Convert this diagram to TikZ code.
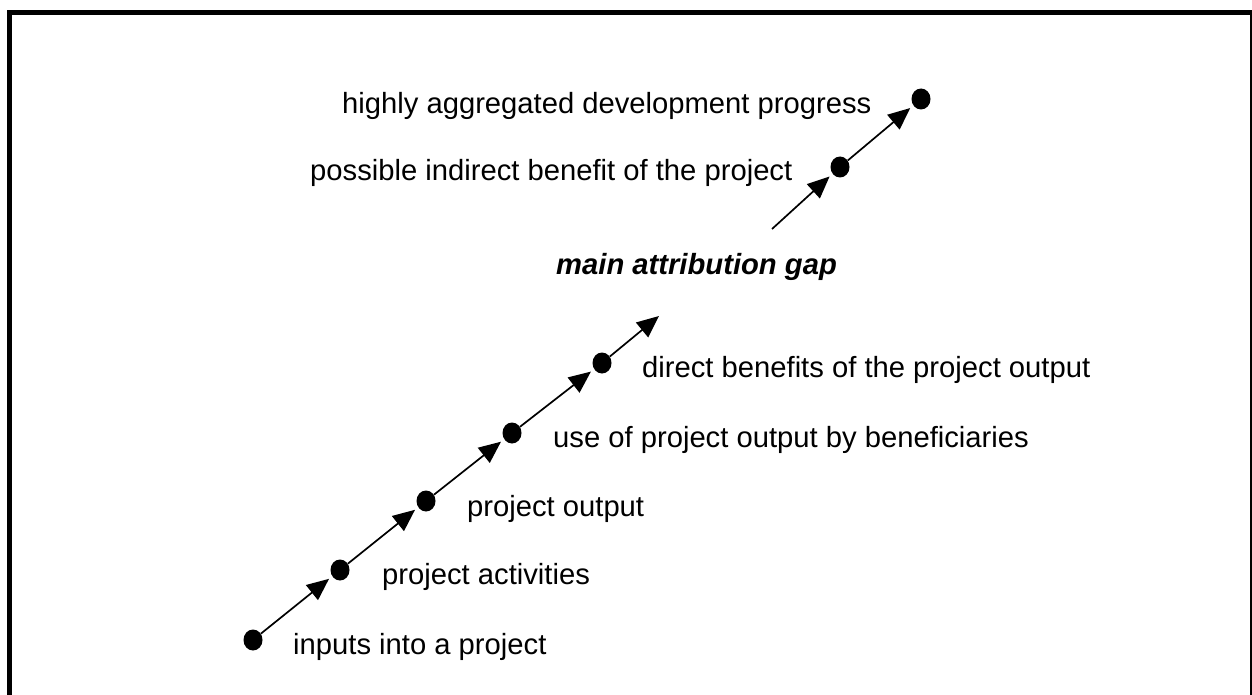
\documentclass[tikz,border=0pt]{standalone}
\usepackage{fontspec}
\setmainfont{Liberation Sans}
\usetikzlibrary{arrows.meta,shapes.geometric}
\begin{document}
\begin{tikzpicture}[x=1pt,y=-1pt,
  dotnode/.style={ellipse,fill=black,draw=none,minimum width=19pt,minimum height=21pt,inner sep=0pt},
  lbl/.style={anchor=base west,inner sep=0pt,font=\fontsize{29.2}{34}\selectfont},
  boldlbl/.style={lbl,font=\fontsize{29.2}{34}\selectfont\bfseries\itshape},
  conn/.style={line width=1.7pt,-{Triangle[length=22pt,width=19pt]},shorten >=4pt}]
\useasboundingbox (0,0) rectangle (1252,695);
\clip (0,0) rectangle (1252,695);
\fill[white] (0,0) rectangle (1252,695);
% frame
\draw[line width=5pt] (9.7,705) -- (9.7,12.5) -- (1252.3,12.5) -- (1252.3,705);
% dots
\node[dotnode] (d1) at (253,640) {};
\node[dotnode] (d2) at (340,570) {};
\node[dotnode] (d3) at (426,501) {};
\node[dotnode] (d4) at (512,433) {};
\node[dotnode] (d5) at (602,363) {};
\node[dotnode] (d6) at (840,167) {};
\node[dotnode] (d7) at (921,99) {};
\coordinate (e5) at (659,316);
\coordinate (s6) at (772,229);
% connectors
\draw[conn] (d1) -- (d2);
\draw[conn] (d2) -- (d3);
\draw[conn] (d3) -- (d4);
\draw[conn] (d4) -- (d5);
\draw[conn,shorten >=0pt] (d5) -- (e5);
\draw[conn] (s6) -- (d6);
\draw[conn] (d6) -- (d7);
% labels
\node[lbl] (t7) at (342,114) {highly aggregated development progress};
\node[lbl] (t6) at (310,181) {possible indirect benefit of the project};
\node[boldlbl] (tg) at (556,274) {main attribution gap};
\node[lbl] (t5) at (642,377) {direct benefits of the project output};
\node[lbl] (t4) at (553,447) {use of project output by beneficiaries};
\node[lbl] (t3) at (467,516) {project output};
\node[lbl] (t2) at (382,584) {project activities};
\node[lbl] (t1) at (293,654) {inputs into a project};
\end{tikzpicture}
\end{document}
